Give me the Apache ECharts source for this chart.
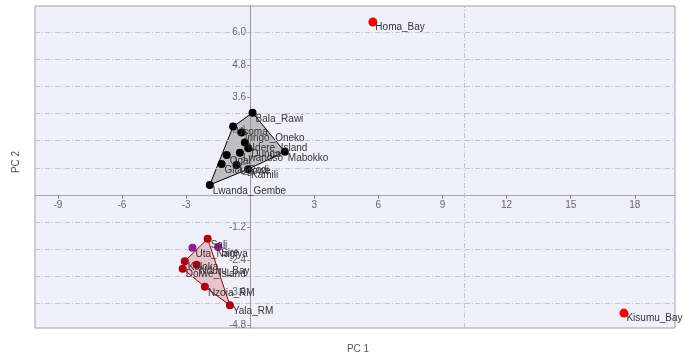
<!DOCTYPE html>
<html>
<head>
<meta charset="utf-8">
<script src="https://cdn.jsdelivr.net/npm/echarts@6/dist/echarts.min.js"></script>
<style>html,body{margin:0;padding:0;background:#fff}#c{width:685px;height:357px}</style>
</head>
<body>
<div id="c"></div>
<script>
// ---- data ----
const blackNames = ['Bala_Rawi','Usoma','Iringo_Oneko','Ndere_Island','Dunga','Mabokko','Ogal','Lwandso','Gita_Rodi','Ugowe','Kamili','Lwanda_Gembe'];
const blackX = [0.11,-0.80,-0.40,-0.25,-0.09,1.62,-1.10,-0.48,-1.34,-0.64,-0.10,-1.89];
const blackY = [3.03,2.52,2.30,1.93,1.72,1.59,1.47,1.56,1.14,1.10,0.95,0.37];

const darkRedNames = ['Sali','Kaloka','Nduru_Bay','Dolwe_Island','Nzoia_RM','Yala_RM'];
const darkRedX = [-1.99,-3.06,-2.51,-3.16,-2.12,-0.95];
const darkRedY = [-1.62,-2.45,-2.58,-2.72,-3.39,-4.07];

const purpleNames = ['Uta_Nagiya','Sire'];
const purpleX = [-2.70,-1.50];
const purpleY = [-1.95,-1.92];

const redNames = ['Homa_Bay','Kisumu_Bay'];
const redX = [5.74,17.49];
const redY = [6.38,-4.36];

const xTicks = [-9,-6,-3,3,6,9,12,15,18];
const yTicks = [-4.8,-3.6,-2.4,-1.2,1.2,2.4,3.6,4.8,6.0];
const xGrid = [10];
const yGrid = [-4,-3,-2,-1,1,2,3,4,5,6];

// ---- helpers ----
function pts(xs, ys){ return xs.map((x,i)=>[x, ys[i]]); }
function items(names, xs, ys){ return names.map((n,i)=>({name:n, value:[xs[i], ys[i]]})); }
function hull(points){
  const p = points.slice().sort((a,b)=>a[0]-b[0]||a[1]-b[1]);
  const cross=(o,a,b)=>(a[0]-o[0])*(b[1]-o[1])-(a[1]-o[1])*(b[0]-o[0]);
  const lower=[], upper=[];
  for(const q of p){ while(lower.length>=2&&cross(lower[lower.length-2],lower[lower.length-1],q)<=0) lower.pop(); lower.push(q); }
  for(let i=p.length-1;i>=0;i--){ const q=p[i]; while(upper.length>=2&&cross(upper[upper.length-2],upper[upper.length-1],q)<=0) upper.pop(); upper.push(q); }
  upper.pop(); lower.pop();
  return lower.concat(upper);
}
function hullSeries(points, fill, stroke){
  const h = hull(points);
  return {
    type:'custom', silent:true, z:2, data:h,
    renderItem:function(params, api){
      if(params.dataIndex!==0) return null;
      return {type:'polygon', shape:{points:h.map(q=>api.coord(q))},
        style:{fill:fill, stroke:stroke, lineWidth:1}};
    }
  };
}
const FONT = 'Liberation Sans, Arial, sans-serif';
const labelStyle = {show:true, formatter:'{b}', position:[7,10], align:'left', verticalAlign:'middle',
  fontSize:10, fontFamily:FONT, color:'#333'};
function scatter(data, color, size){
  return {type:'scatter', data:data, symbolSize:size, z:5,
    itemStyle:{color:color, opacity:1}, label:labelStyle, emphasis:{disabled:true}};
}

const GL=35, GT=6, GR=10, GB=29;
const chart = echarts.init(document.getElementById('c'), null, {renderer:'canvas'});
chart.setOption({
  backgroundColor:'#ffffff',
  animation:false,
  grid:{left:GL, top:GT, right:GR, bottom:GB, show:true, backgroundColor:'#f0f0fa', borderColor:'#a0a0a8', borderWidth:1},
  xAxis:{type:'value', min:-10.07, max:19.88, position:'bottom', offset:0,
    axisLine:{onZero:false, lineStyle:{color:'#a8a8b0', width:1}},
    axisTick:{show:true, customValues:xTicks, length:4, lineStyle:{color:'#888'}},
    axisLabel:{customValues:xTicks, margin:5, fontSize:10, color:'#666', fontFamily:FONT},
    splitLine:{show:false}},
  yAxis:{type:'value', min:-4.91, max:6.97, position:'left', offset:0,
    axisLine:{onZero:false, lineStyle:{color:'#999', width:1}},
    axisTick:{show:true, customValues:yTicks, length:3, lineStyle:{color:'#888'}},
    axisLabel:{customValues:yTicks, margin:4, fontSize:10, color:'#666', fontFamily:FONT,
      formatter:function(v){return v.toFixed(1);}},
    splitLine:{show:false}},
  graphic:[
    {type:'text', x:16, y:162, rotation:Math.PI/2, style:{text:'PC 2', fontSize:10, fill:'#555', align:'center', verticalAlign:'middle', fontFamily:FONT}},
    {type:'text', x:358, y:349, style:{text:'PC 1', fontSize:10, fill:'#555', align:'center', verticalAlign:'middle', fontFamily:FONT}}
  ],
  series:[
    {type:'line', data:[], z:1, silent:true,
      markLine:{silent:true, symbol:'none', label:{show:false}, animation:false,
        lineStyle:{color:'#c2c2d0', width:1, type:[5,2,1,2]},
        data: yGrid.map(v=>({yAxis:v})).concat(xGrid.map(v=>({xAxis:v})))}},
    hullSeries(pts(blackX, blackY), 'rgba(150,150,150,0.55)', '#000000'),
    hullSeries(pts(darkRedX, darkRedY), 'rgba(215,120,130,0.38)', '#a00000'),
    scatter(items(blackNames, blackX, blackY), '#000000', 8),
    scatter(items(darkRedNames, darkRedX, darkRedY), '#b00010', 8),
    scatter(items(purpleNames, purpleX, purpleY), '#931a93', 8),
    scatter(items(redNames, redX, redY), '#ff0000', 9)
  ]
});
// move the axes so they cross at the origin (through the library's own scales)
const x0 = chart.convertToPixel({xAxisIndex:0}, 0);
const y0 = chart.convertToPixel({yAxisIndex:0}, 0);
const H = 357;
chart.setOption({
  xAxis:{offset: -((H-GB) - y0)},
  yAxis:{offset: -(x0 - GL)}
});
</script>
</body>
</html>
